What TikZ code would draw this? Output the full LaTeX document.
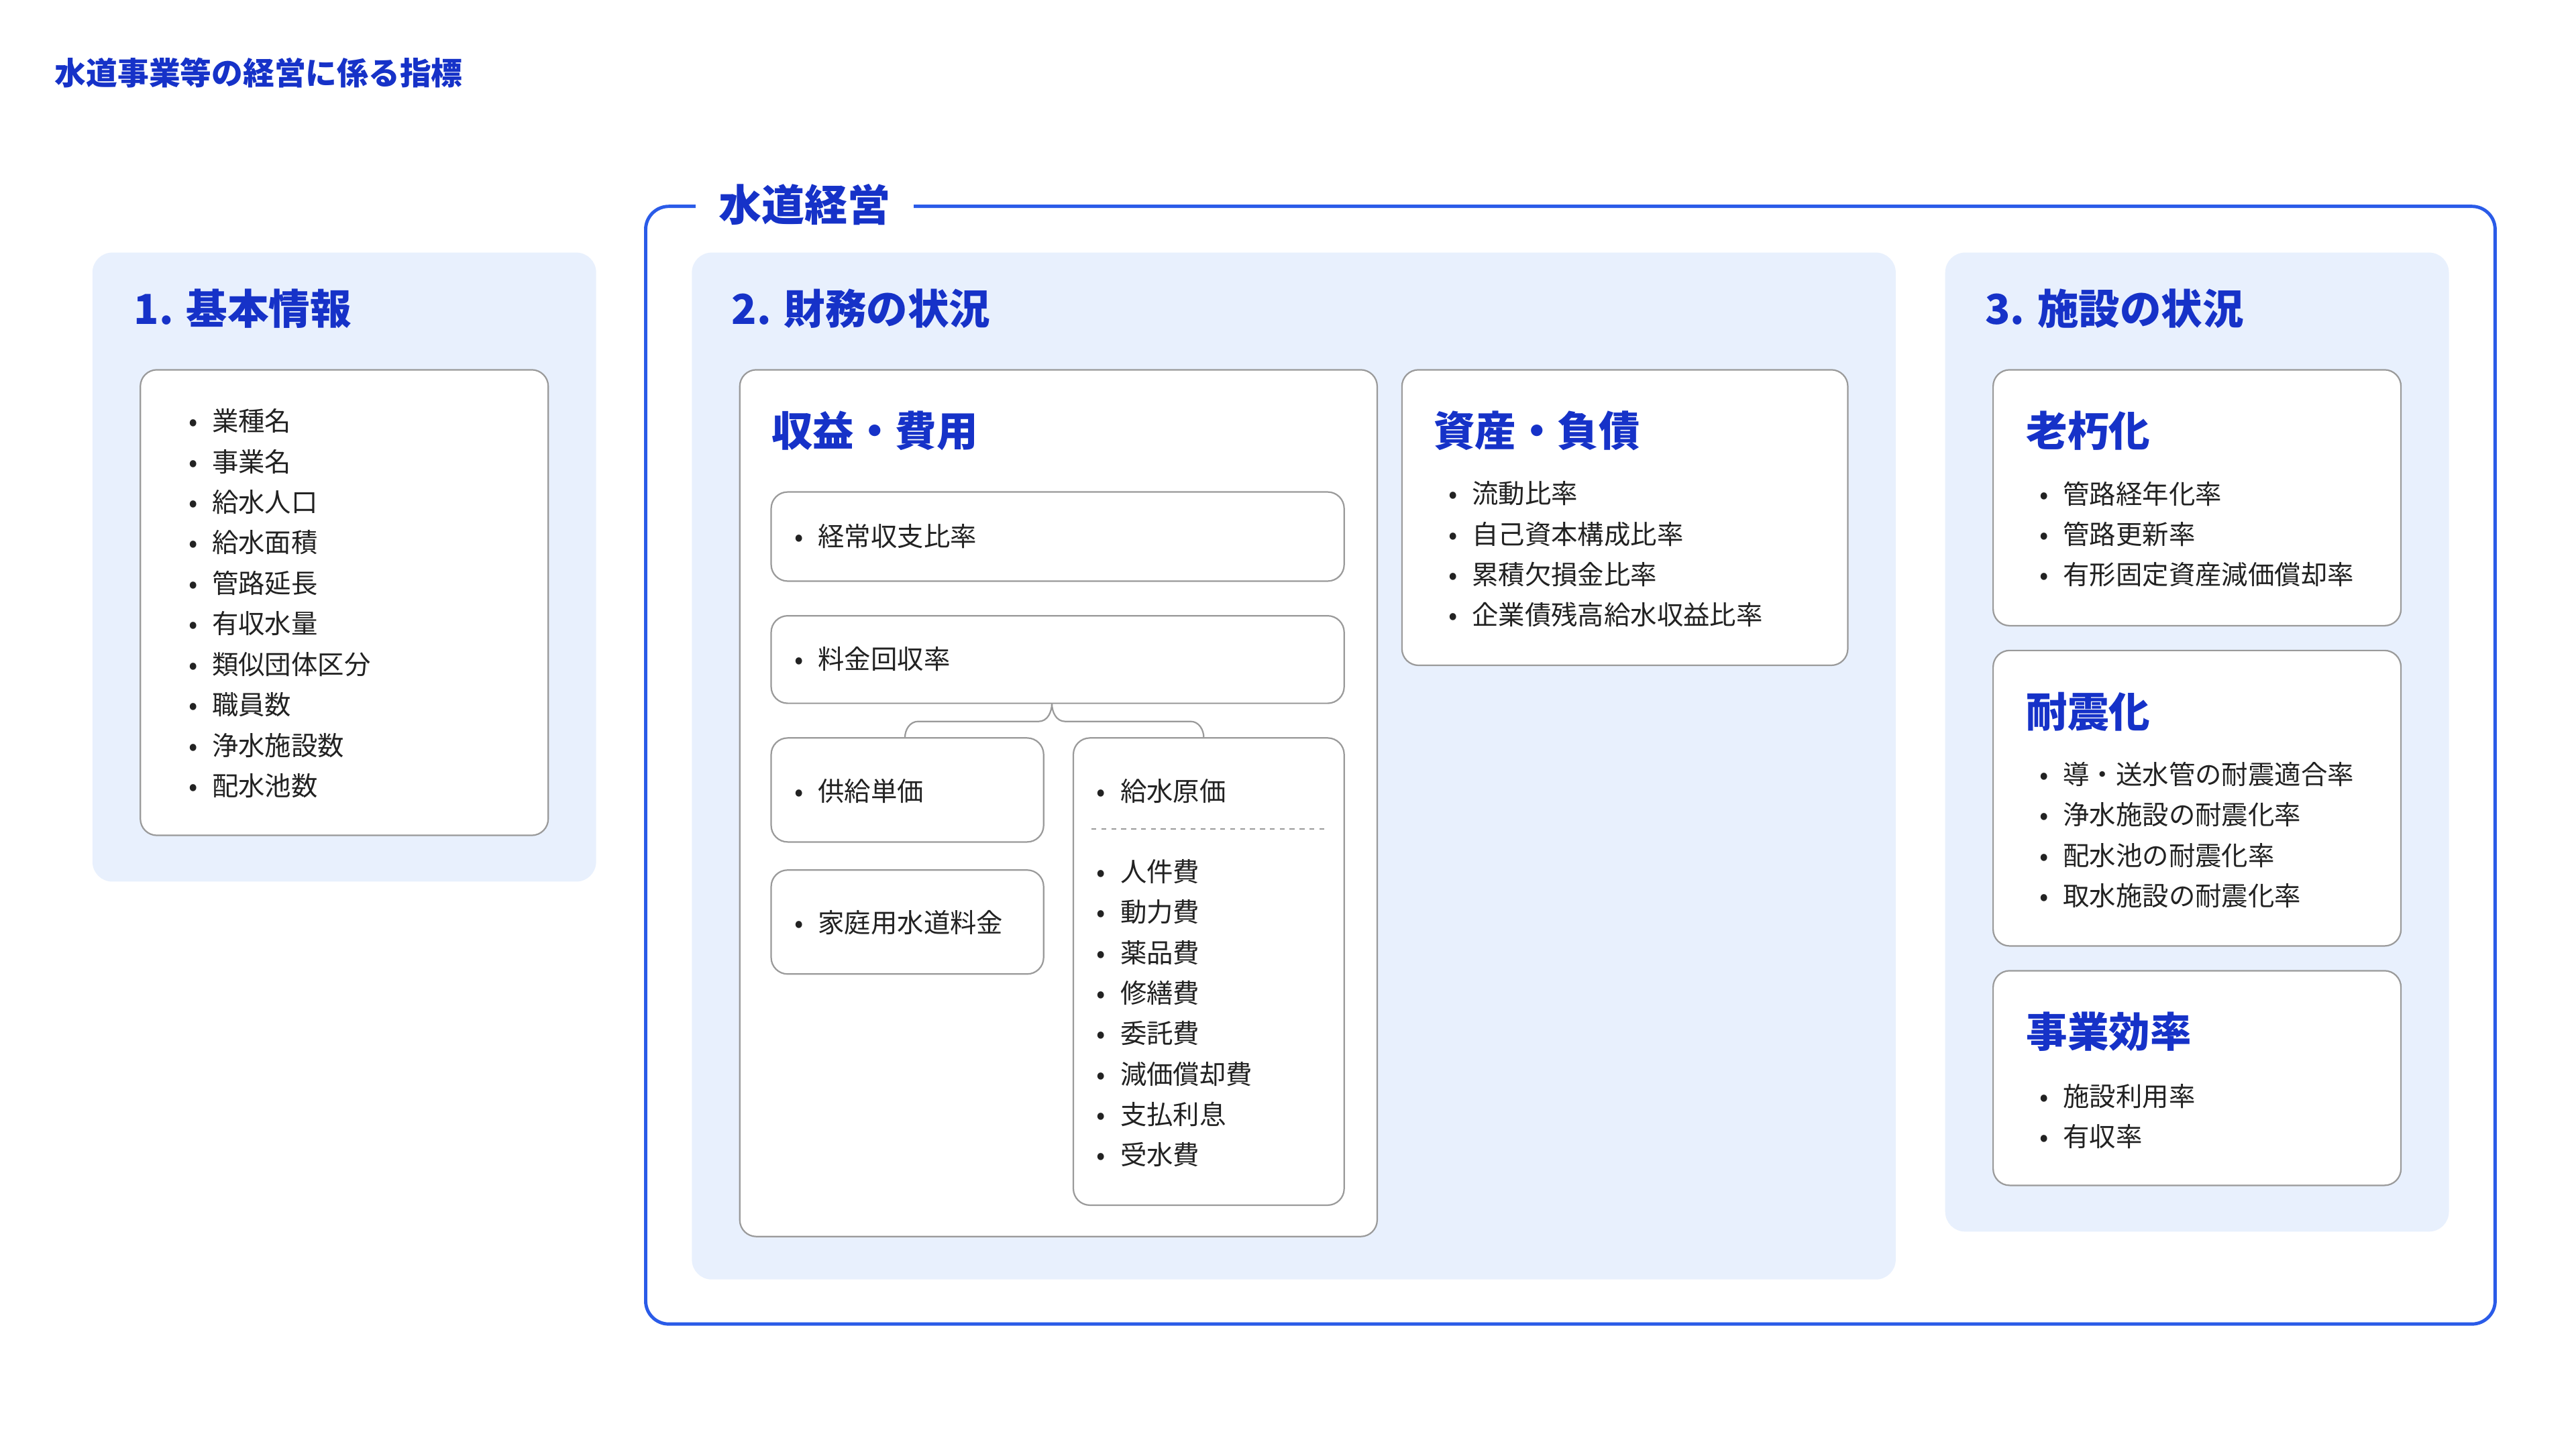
\documentclass[tikz,border=0pt]{standalone}
\usepackage{fontspec}
\setmainfont{Noto Sans CJK JP}
\usetikzlibrary{calc}
\definecolor{tblue}{HTML}{1632C8}
\definecolor{fblue}{HTML}{2A5BE8}
\definecolor{pbg}{HTML}{E8F0FD}
\definecolor{bord}{HTML}{9A9A9A}
\definecolor{txt}{HTML}{222222}
\tikzset{
 x=1pt,y=-1pt,
 panel/.style={fill=pbg,draw=none,rounded corners=12pt},
 card/.style={fill=white,draw=bord,line width=0.9pt,rounded corners=10pt},
 ptitle/.style={anchor=west,inner sep=0,text=tblue,font=\fontsize{25}{30}\selectfont\bfseries},
 item/.style={anchor=west,inner sep=0,text=txt,font=\fontsize{16}{19}\selectfont},
}
\newcommand\blist[4]{\foreach \t [count=\i from 0] in {#4}{\node[item] (b#1\i) at (#1,#2+\i*#3) {•\hspace{0.55em}\t};}}
\begin{document}
\begin{tikzpicture}
\useasboundingbox[fill=white] (0,0) rectangle (1560,878);
\node[anchor=west,inner sep=0,text=tblue,font=\fontsize{19}{22}\selectfont\bfseries] (hdr) at (33,44) {水道事業等の経営に係る指標};
% outer frame
\draw[fblue,line width=2pt,rounded corners=14pt] (391,125) rectangle (1511,802);
\node[anchor=west,fill=white,inner xsep=14pt,inner ysep=2pt,text=tblue,font=\fontsize{26}{30}\selectfont\bfseries] (frm) at (421,124) {水道経営};
% panel 1
\fill[panel] (56,153) rectangle (361,534);
\node[ptitle] (t1) at (81,187) {1. 基本情報};
\draw[card] (85,224) rectangle (332,506);
\blist{114}{255}{24.55}{業種名,事業名,給水人口,給水面積,管路延長,有収水量,類似団体区分,職員数,浄水施設数,配水池数}
% panel 2
\fill[panel] (419,153) rectangle (1148,775);
\node[ptitle] (t2) at (443,187) {2. 財務の状況};
\draw[card] (448,224) rectangle (834,749);
\node[ptitle] (rev) at (467,261) {収益・費用};
\draw[card] (467,298) rectangle (814,352);
\node[item] (k1) at (481,325) {•\hspace{0.55em}経常収支比率};
\draw[card] (467,373) rectangle (814,426);
\coordinate (rc) at (637,426);
\node[item] (k2) at (481,399) {•\hspace{0.55em}料金回収率};
\draw[card] (467,447) rectangle (632,510);
\node[item] (k3) at (481,479) {•\hspace{0.55em}供給単価};
\draw[card] (467,527) rectangle (632,590);
\node[item] (k4) at (481,559) {•\hspace{0.55em}家庭用水道料金};
\draw[card] (650,447) rectangle (814,730);
\node[item] (k5) at (664,479) {•\hspace{0.55em}給水原価};
\draw[bord,dashed,line width=0.8pt] (661,502) -- (803,502);
\blist{664}{528}{24.5}{人件費,動力費,薬品費,修繕費,委託費,減価償却費,支払利息,受水費}
% brace
\draw[bord,line width=0.9pt] (rc) to[out=-90,in=0] (629,437) -- (556,437) to[out=180,in=90] (548,447);
\draw[bord,line width=0.9pt] (rc) to[out=-90,in=180] (645,437) -- (721,437) to[out=0,in=90] (729,447);
\draw[card] (849,224) rectangle (1119,403);
\node[ptitle] (ast) at (868,261) {資産・負債};
\blist{877}{299}{24.5}{流動比率,自己資本構成比率,累積欠損金比率,企業債残高給水収益比率}
% panel 3
\fill[panel] (1178,153) rectangle (1483,746);
\node[ptitle] (t3) at (1202,187) {3. 施設の状況};
\draw[card] (1207,224) rectangle (1454,379);
\node[ptitle] (old) at (1227,261) {老朽化};
\blist{1235}{299}{24.5}{管路経年化率,管路更新率,有形固定資産減価償却率}
\draw[card] (1207,394) rectangle (1454,573);
\node[ptitle] (eq) at (1227,431) {耐震化};
\blist{1235}{469}{24.5}{導・送水管の耐震適合率,浄水施設の耐震化率,配水池の耐震化率,取水施設の耐震化率}
\draw[card] (1207,588) rectangle (1454,718);
\node[ptitle] (eff) at (1227,625) {事業効率};
\blist{1235}{664}{24.5}{施設利用率,有収率}
\end{tikzpicture}
\end{document}
